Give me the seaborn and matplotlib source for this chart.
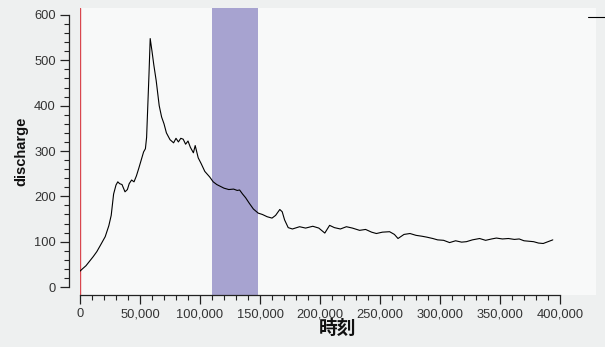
import numpy as np
import pandas as pd
import matplotlib
matplotlib.use("Agg")
import matplotlib.pyplot as plt
import matplotlib.ticker as mticker
import seaborn as sns

# ---- data ----
time = [0, 2000, 5000, 8000, 11000, 14000, 17000, 21000, 24000, 26000,
        28000, 30000, 31500, 33000, 35000, 37500, 39500, 41000, 43000, 45000,
        47000, 49000, 51000, 53000, 54500, 55500, 56500, 57500, 58500, 60000,
        61500, 63500, 66000, 68000, 70000, 72000, 75000, 78000, 80000, 82000,
        84000, 86000, 88000, 90000, 92000, 94500, 96000, 98500, 101000, 104000,
        108000, 111000, 114000, 117000, 120000, 124000, 128000, 131000, 133000, 135500,
        138000, 141000, 144500, 148500, 152000, 156000, 160000, 163000, 166500, 168500,
        170500, 173500, 177000, 183000, 188000, 194000, 199000, 204000, 208000, 212000,
        217000, 222000, 227000, 233000, 238000, 243000, 247000, 252000, 258000, 262000,
        265000, 270000, 275000, 280000, 285000, 289000, 294000, 298000, 303000, 308000,
        313000, 318000, 322000, 327000, 333000, 338000, 343000, 347000, 352000, 357000,
        362000, 366000, 370000, 374000, 378000, 382000, 386000, 390000, 394000]
discharge = [35, 40, 47, 57, 67, 78, 92, 111, 135, 158,
             205, 225, 232, 228, 226, 210, 215, 228, 236, 232,
             245, 262, 280, 298, 305, 330, 400, 470, 548, 520,
             490, 455, 400, 375, 360, 340, 325, 318, 328, 320,
             328, 326, 315, 322, 308, 296, 312, 285, 272, 255,
             243, 232, 226, 222, 218, 215, 216, 213, 214, 205,
             197, 185, 172, 163, 160, 155, 152, 158, 171, 166,
             148, 131, 128, 133, 130, 134, 130, 119, 136, 131,
             128, 133, 130, 125, 127, 121, 118, 121, 122, 116,
             107, 116, 118, 114, 112, 110, 107, 104, 103, 98,
             102, 99, 100, 104, 107, 103, 106, 108, 106, 107,
             105, 106, 102, 101, 100, 97, 96, 100, 104]

highlight = (110000, 148000)

df = pd.DataFrame({"時刻": time, "discharge": discharge})

# ---- style ----
sns.set_theme(style="ticks")
plt.rcParams['font.family'] = ['Liberation Sans', 'Noto Sans CJK JP', 'DejaVu Sans']

fig = plt.figure(figsize=(6.05, 3.47), dpi=100, facecolor="#eef0f0")
ax = fig.add_axes([80 / 605, 52 / 347, 516 / 605, 287 / 347])
ax.set_facecolor("#f8f9f9")

ax.axvspan(highlight[0], highlight[1], color="#a7a3d0", lw=0, zorder=1)
ax.axvline(0, color="#d9474f", lw=1.0, zorder=2)
sns.lineplot(data=df, x="時刻", y="discharge", color="black", lw=0.8, ax=ax,
             zorder=3, label="_line")

ax.set_xlim(0, 430000)
ax.set_ylim(-17.6, 615.4)

# spines
for s in ["top", "right"]:
    ax.spines[s].set_visible(False)
ax.spines["left"].set_position(("outward", 8))
ax.spines["left"].set_bounds(0, 600)
ax.spines["bottom"].set_bounds(0, 400000)
for s in ["left", "bottom"]:
    ax.spines[s].set_color("#222222")
    ax.spines[s].set_linewidth(0.9)

ax.xaxis.set_major_locator(mticker.FixedLocator(np.arange(0, 400001, 50000)))
ax.xaxis.set_minor_locator(mticker.FixedLocator(np.arange(0, 400001, 10000)))
ax.yaxis.set_major_locator(mticker.FixedLocator(np.arange(0, 601, 100)))
ax.yaxis.set_minor_locator(mticker.FixedLocator(np.arange(0, 601, 20)))
ax.xaxis.set_major_formatter(mticker.FuncFormatter(lambda v, p: f"{int(v):,}"))

ax.tick_params(axis="both", which="major", length=6.5, width=0.9, color="#222222",
               labelsize=9.3, labelcolor="#333333", pad=3)
ax.tick_params(axis="both", which="minor", length=3.5, width=0.8, color="#222222")

ax.set_xlabel("時刻", fontsize=13.5, fontweight="bold", labelpad=0, color="#111111")
ax.set_ylabel("discharge", fontsize=10.5, fontweight="bold", labelpad=4, color="#111111")

ax.legend([ax.lines[-1]], [""], loc="upper left", bbox_to_anchor=(0.985, 0.99),
          frameon=False, handlelength=1.4, borderpad=0, borderaxespad=0)

fig.savefig("out.png", dpi=100, facecolor=fig.get_facecolor())
